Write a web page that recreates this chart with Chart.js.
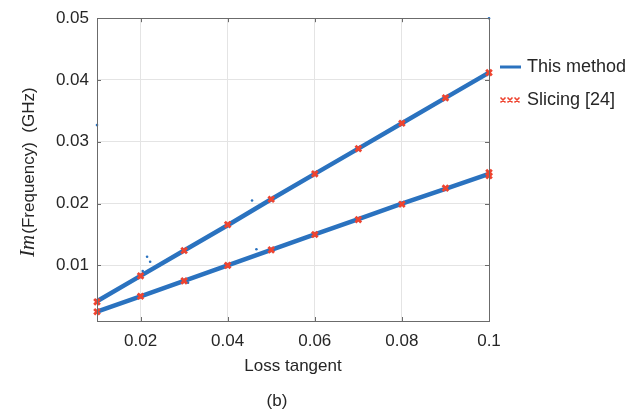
<!DOCTYPE html>
<html>
<head>
<meta charset="utf-8">
<script src="https://cdn.jsdelivr.net/npm/chart.js@4"></script>
<style>
  html, body { margin: 0; padding: 0; background: #fff; }
  #wrap { width: 642px; height: 412px; }
</style>
</head>
<body>
<div id="wrap"><canvas id="chart" width="642" height="412"></canvas></div>
<script>
// loss tangent values where both methods were sampled
const lossTangent = [0.01, 0.02, 0.03, 0.04, 0.05, 0.06, 0.07, 0.08, 0.09, 0.1];

// this method: two dense branches of Im(f), GHz
const methodUpper = [0.0042, 0.0083, 0.0124, 0.0165, 0.0207, 0.0248, 0.0289, 0.0330, 0.0371, 0.0412];
const methodLower = [0.0025, 0.0050, 0.0075, 0.0100, 0.0125, 0.0150, 0.0175, 0.0200, 0.0224, 0.0248];

// a few stray points of this method
const strayX = [0.01, 0.1, 0.0215, 0.0222, 0.0456, 0.0466, 0.0309, 0.0205];
const strayY = [0.0327, 0.05, 0.0114, 0.0106, 0.0205, 0.0126, 0.0072, 0.0091];

// slicing [24]
const slicingUpper = [0.0041, 0.0083, 0.0124, 0.0166, 0.0207, 0.0248, 0.0289, 0.0330, 0.0371, 0.0412];
const slicingLower = [0.0025, 0.0050, 0.0075, 0.0100, 0.0125, 0.0150, 0.0174, 0.0199, 0.0225, 0.0250];
const slicingExtraX = [0.1];
const slicingExtraY = [0.0245];

const xTicks = [0.02, 0.04, 0.06, 0.08, 0.1];
const xTickLabels = ["0.02", "0.04", "0.06", "0.08", "0.1"];
const yTicks = [0.01, 0.02, 0.03, 0.04, 0.05];
const yTickLabels = ["0.01", "0.02", "0.03", "0.04", "0.05"];

const BLUE = "#2a72bf";
const RED = "#ee4430";
const FONT = "'Liberation Sans', Arial, sans-serif";

const pts = (xs, ys) => xs.map((x, i) => ({ x: x, y: ys[i] }));

// box, inward ticks, y title, legend and caption
const decor = {
  id: "decor",
  afterDraw(chart) {
    const ctx = chart.ctx;
    const a = chart.chartArea;
    const xs = chart.scales.x, ys = chart.scales.y;
    ctx.save();
    ctx.strokeStyle = "#6b6b6b";
    ctx.lineWidth = 1;
    ctx.beginPath();
    xTicks.forEach((t) => {
      const px = Math.round(xs.getPixelForValue(t)) + 0.5;
      ctx.moveTo(px, a.bottom); ctx.lineTo(px, a.bottom - 4);
      ctx.moveTo(px, a.top); ctx.lineTo(px, a.top + 4);
    });
    yTicks.forEach((t) => {
      const py = Math.round(ys.getPixelForValue(t)) + 0.5;
      ctx.moveTo(a.left, py); ctx.lineTo(a.left + 4, py);
      ctx.moveTo(a.right, py); ctx.lineTo(a.right - 4, py);
    });
    ctx.stroke();
    ctx.strokeRect(Math.round(a.left) + 0.5, Math.round(a.top) + 0.5,
      Math.round(a.right - a.left), Math.round(a.bottom - a.top));

    // y axis title: italic "Im" + rest
    ctx.fillStyle = "#262626";
    ctx.translate(34, (a.top + a.bottom) / 2 + 3);
    ctx.rotate(-Math.PI / 2);
    ctx.textBaseline = "alphabetic";
    ctx.textAlign = "left";
    const f1 = "italic 21px 'Liberation Serif', 'DejaVu Serif', serif";
    const f2 = "17px " + FONT;
    ctx.font = f1;
    const w1 = ctx.measureText("Im").width;
    ctx.font = f2;
    const rest = "(Frequency)  (GHz)";
    const w2 = ctx.measureText(rest).width;
    let x0 = -(w1 + w2) / 2;
    ctx.font = f1;
    ctx.fillText("Im", x0, 0);
    ctx.font = f2;
    ctx.fillText(rest, x0 + w1 + 1, 0);
    ctx.setTransform(1, 0, 0, 1, 0, 0);

    // legend
    ctx.strokeStyle = BLUE;
    ctx.lineWidth = 3;
    ctx.beginPath();
    ctx.moveTo(500, 67); ctx.lineTo(521, 67);
    ctx.stroke();
    ctx.strokeStyle = RED;
    ctx.lineWidth = 1.6;
    ctx.beginPath();
    [503, 510, 517].forEach((cx) => {
      ctx.moveTo(cx - 2.5, 97.5); ctx.lineTo(cx + 2.5, 102.5);
      ctx.moveTo(cx - 2.5, 102.5); ctx.lineTo(cx + 2.5, 97.5);
    });
    ctx.stroke();
    ctx.fillStyle = "#262626";
    ctx.font = "18px " + FONT;
    ctx.textBaseline = "middle";
    ctx.fillText("This method", 527, 67);
    ctx.fillText("Slicing [24]", 527, 100);

    // caption
    ctx.font = "17px " + FONT;
    ctx.textAlign = "center";
    ctx.fillText("(b)", 277, 401);
    ctx.restore();
  }
};

new Chart(document.getElementById("chart"), {
  type: "scatter",
  data: {
    datasets: [
      {
        label: "Slicing [24]",
        data: pts(lossTangent, slicingUpper).concat(pts(lossTangent, slicingLower), pts(slicingExtraX, slicingExtraY)),
        showLine: false,
        pointStyle: "crossRot",
        pointRadius: 4,
        borderColor: RED,
        backgroundColor: RED,
        borderWidth: 2.8,
        order: 0
      },
      {
        label: "This method",
        data: pts(lossTangent, methodUpper),
        showLine: true,
        borderColor: BLUE,
        borderWidth: 4.5,
        pointRadius: 0,
        order: 1
      },
      {
        label: "This method (lower)",
        data: pts(lossTangent, methodLower),
        showLine: true,
        borderColor: BLUE,
        borderWidth: 4.5,
        pointRadius: 0,
        order: 1
      },
      {
        label: "stray",
        data: pts(strayX, strayY),
        showLine: false,
        pointRadius: 1.3,
        borderWidth: 0,
        backgroundColor: BLUE,
        order: 2
      }
    ]
  },
  options: {
    responsive: false,
    animation: false,
    clip: false,
    layout: { padding: { top: 10, right: 153, bottom: 0, left: 0 } },
    plugins: { legend: { display: false }, tooltip: { enabled: false } },
    scales: {
      x: {
        type: "linear",
        min: 0.01,
        max: 0.1,
        afterFit: (s) => { s.height = 91; },
        afterBuildTicks: (s) => { s.ticks = xTicks.map((v) => ({ value: v })); },
        grid: { color: "#e4e4e4", drawTicks: false },
        border: { display: false },
        ticks: {
          padding: 10,
          color: "#262626",
          font: { family: FONT, size: 17 },
          maxRotation: 0,
          callback: (v) => xTickLabels[xTicks.indexOf(v)] ?? ""
        },
        title: {
          display: true,
          text: "Loss tangent",
          color: "#262626",
          font: { family: FONT, size: 17 },
          padding: { top: 0, bottom: 35 }
        }
      },
      y: {
        type: "linear",
        min: 0.001,
        max: 0.05,
        afterFit: (s) => { s.width = 97; },
        afterBuildTicks: (s) => { s.ticks = yTicks.map((v) => ({ value: v })); },
        grid: { color: "#e4e4e4", drawTicks: false },
        border: { display: false },
        ticks: {
          padding: 8,
          color: "#262626",
          font: { family: FONT, size: 17 },
          callback: (v) => yTickLabels[yTicks.indexOf(v)] ?? ""
        }
      }
    }
  },
  plugins: [decor]
});
</script>
</body>
</html>
